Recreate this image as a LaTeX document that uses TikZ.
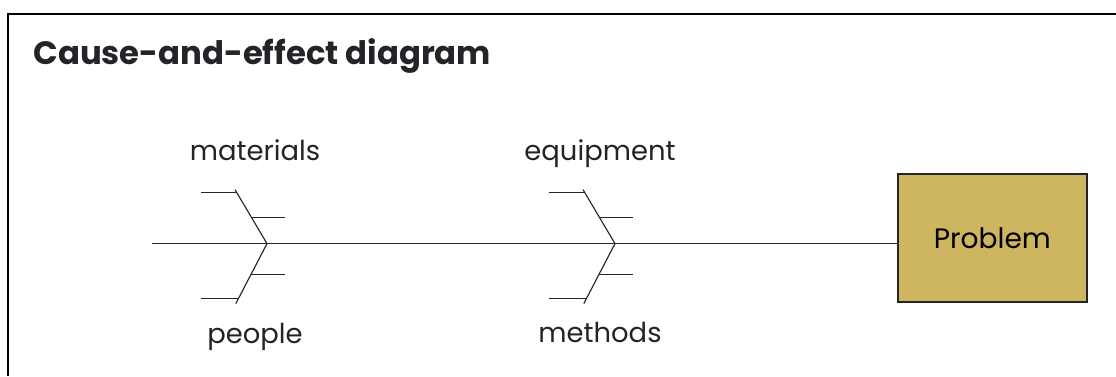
\documentclass[tikz,border=0pt]{standalone}
\usepackage{fontspec}
\setmainfont{Poppins}
\usetikzlibrary{positioning}

\definecolor{boxfill}{RGB}{205,182,95}
\definecolor{inkgray}{RGB}{35,35,40}

\begin{document}
\begin{tikzpicture}[
box/.style={draw=inkgray, line width=1pt, fill=boxfill, rectangle, align=center, minimum width=4.725cm, minimum height=3.2cm, font=\fontsize{20}{24}\selectfont},
cause/.style={anchor=base, text=inkgray, font=\fontsize{19.5}{24}\selectfont},
spine/.style={draw=inkgray, line width=0.9pt},
bone/.style={draw=inkgray, line width=0.8pt},
causebone/.pic={
  \draw[bone] (-0.8,1.35) -- (0,0) -- (-0.78,-1.5);
  \draw[bone] (-1.65,1.27) -- (-0.753,1.27);
  \draw[bone] (-0.391,0.66) -- (0.45,0.66);
  \draw[bone] (-0.406,-0.78) -- (0.45,-0.78);
  \draw[bone] (-1.65,-1.38) -- (-0.718,-1.38);
}
]
\useasboundingbox (0,0) rectangle (27.9,-9.4);

% frame, cut by the page on the right and at the bottom
\draw[line width=1.6pt] (27.9,-0.35) -- (0.2,-0.35) -- (0.2,-9.4);

\node[anchor=base west, inner sep=0pt, text=inkgray, font=\fontsize{23}{27}\bfseries] (title) at (0.83,-1.6) {Cause-and-effect diagram};

\node[box] (problem) at (24.81,-5.95) {Problem};

\coordinate (tail) at (3.8,-6.09);
\coordinate (matjoint) at (6.675,-6.09);
\coordinate (eqjoint) at (15.375,-6.09);

\draw[spine] (tail) -- (problem.west |- tail);

\pic at (matjoint) {causebone};
\pic at (eqjoint) {causebone};

\node[cause] (materials) at (6.375,-4.0) {materials};
\node[cause] (people) at (6.375,-8.575) {people};
\node[cause] (equipment) at (15.0,-4.0) {equipment};
\node[cause] (methods) at (15.0,-8.55) {methods};

\end{tikzpicture}
\end{document}
